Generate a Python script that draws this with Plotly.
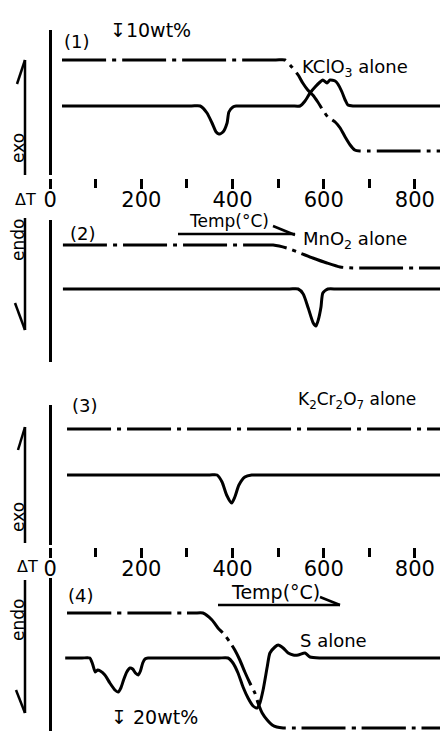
import plotly.graph_objects as go

# ---------------- data (temperature in °C, signals in arbitrary units) ----------------
# Panel (1) KClO3 alone
p1_dta_T = [26, 310, 329, 344, 355, 364, 370, 379, 388, 392, 401, 408, 425, 530, 548, 559, 570, 581, 592, 598, 607, 614, 625, 631, 640, 647, 653, 664, 690, 855]
p1_dta_v = [0, 0, 0, -7, -17, -26, -28, -26, -17, -6, -1, 0, 0, 0, 0, 5, 13, 19, 24, 26, 23, 26, 25, 22, 14, 6, 1, 0, 0, 0]
p1_tg_T = [26, 495, 515, 530, 544, 554, 565, 576, 587, 598, 609, 625, 636, 647, 658, 668, 679, 700, 855]
p1_tg_v = [46, 46, 46, 39, 31, 23, 16, 11, 4, -4, -11, -16, -22, -31, -39, -44, -45, -45, -45]

# Panel (2) MnO2 alone
p2_dta_T = [28, 525, 544, 555, 566, 577, 583, 588, 594, 598, 609, 630, 855]
p2_dta_v = [0, 0, 0, -5, -19, -34, -37, -31, -18, -4, 0, 0, 0]
p2_tg_T = [28, 470, 489, 519, 548, 576, 607, 636, 664, 695, 855]
p2_tg_v = [44, 44, 44, 41, 36, 31, 26, 22, 21, 21, 21]

# Panel (3) K2Cr2O7 alone
p3_dta_T = [37, 350, 366, 377, 387, 398, 405, 414, 427, 442, 460, 855]
p3_dta_v = [0, 0, 0, -7, -20, -28, -22, -10, -2, 0, 0, 0]
p3_tg_T = [37, 855]
p3_tg_v = [46, 46]

# Panel (4) S alone
p4_dta_T = [33, 70, 87, 93, 99, 104, 110, 120, 131, 142, 149, 155, 161, 168, 175, 181, 187, 193, 198, 203, 208, 215, 235,
            370, 390, 401, 412, 423, 434, 445, 454, 460, 467, 476, 482, 493, 500, 511, 522, 533, 544, 559, 570, 592, 615, 855]
p4_dta_v = [0, 0, 0, -6, -14, -12, -13, -17, -25, -32, -34, -30, -22, -14, -10, -11, -15, -17, -13, -5, -1, 0, 0,
            0, 0, -5, -15, -29, -40, -48, -50, -45, -32, -9, 5, 11, 13, 10, 5, 3, 3, 5, 1, 0, 0, 0]
p4_tg_T = [37, 300, 318, 335, 355, 368, 383, 394, 405, 416, 427, 438, 449, 456, 465, 476, 487, 497, 511, 530, 855]
p4_tg_v = [45, 45, 45, 45, 38, 30, 23, 16, 8, -2, -14, -25, -35, -45, -55, -62, -67, -69, -70, -70, -70]

major_ticks = [0, 200, 400, 600, 800]
minor_ticks = [100, 300, 500, 700]
tick_text = ["0", "200", "400", "600", "800"]

# ---------------- layout helpers ----------------
W, H = 440, 731
FONT = "DejaVu Sans"
INK = "black"
DASHDOT = "44px,6px,4px,6px"


def fx(x):
    return x / W


def fy(y):
    return 1 - y / H


fig = go.Figure()

panels = [
    (p1_dta_T, p1_dta_v, p1_tg_T, p1_tg_v, "x", "y"),
    (p2_dta_T, p2_dta_v, p2_tg_T, p2_tg_v, "x", "y2"),
    (p3_dta_T, p3_dta_v, p3_tg_T, p3_tg_v, "x2", "y3"),
    (p4_dta_T, p4_dta_v, p4_tg_T, p4_tg_v, "x2", "y4"),
]
for dT, dv, gT, gv, xa, ya in panels:
    fig.add_trace(go.Scatter(x=gT, y=gv, mode="lines", xaxis=xa, yaxis=ya,
                             line=dict(color=INK, width=3, dash=DASHDOT, shape="spline", smoothing=0.6),
                             hoverinfo="skip"))
    fig.add_trace(go.Scatter(x=dT, y=dv, mode="lines", xaxis=xa, yaxis=ya,
                             line=dict(color=INK, width=3, shape="spline", smoothing=0.6),
                             hoverinfo="skip"))

# panel pixel extents (top, bottom) and baseline pixel
panel_px = [(30, 175, 106), (220, 362, 289), (405, 545, 475), (578, 731, 658)]


def yax(top, bottom, base):
    return dict(domain=[fy(bottom), fy(top)], range=[base - bottom, base - top],
                anchor="free", position=fx(50), showline=True, linewidth=3, linecolor=INK,
                showticklabels=False, ticks="", showgrid=False, zeroline=False, fixedrange=True)


def xax(ypos, **kw):
    d = dict(domain=[0, 1], range=[-110, 855], anchor="free", position=fy(ypos),
             tickmode="array", tickvals=major_ticks, ticktext=tick_text,
             ticks="outside", ticklen=10, tickwidth=3, tickcolor=INK, ticklabelstandoff=-7,
             tickfont=dict(family=FONT, size=21, color=INK),
             minor=dict(tickvals=minor_ticks, ticks="outside", ticklen=9, tickwidth=3,
                        tickcolor=INK, showgrid=False),
             showline=False, showgrid=False, zeroline=False, fixedrange=True)
    d.update(kw)
    return d


annotations = []


def ann(text, x, y, size=18, xanchor="center", angle=0):
    annotations.append(dict(text=text, x=fx(x), y=fy(y), xref="paper", yref="paper",
                            xanchor=xanchor, yanchor="middle", showarrow=False, textangle=angle,
                            font=dict(family=FONT, size=size, color=INK)))


ann("(1)", 77, 42)
ann("↧10wt%", 108, 30, size=19, xanchor="left")
ann("KClO<sub>3</sub> alone", 300, 68, xanchor="left")
ann("ΔT", 25, 199, size=16)
ann("Temp(°C)", 229, 221, size=17)
ann("MnO<sub>2</sub> alone", 301, 240, xanchor="left")
ann("(2)", 83, 234)
ann("(3)", 85, 405)
ann("K<sub>2</sub>Cr<sub>2</sub>O<sub>7</sub> alone", 296, 400, size=17, xanchor="left")
ann("ΔT", 27, 566, size=16)
ann("(4)", 81, 595)
ann("Temp(°C)", 275, 592, size=19)
ann("S alone", 298, 640, xanchor="left")
ann("↧ 20wt%", 109, 717, size=19, xanchor="left")
ann("exo", 18, 148, size=17, angle=-90)
ann("endo", 18, 240, size=17, angle=-90)
ann("exo", 18, 517, size=17, angle=-90)
ann("endo", 18, 620, size=17, angle=-90)

shapes = []


def seg(x0, y0, x1, y1, w=2.5):
    shapes.append(dict(type="line", xref="paper", yref="paper", x0=fx(x0), y0=fy(y0),
                       x1=fx(x1), y1=fy(y1), line=dict(color=INK, width=w)))


# exo / endo arrows (half heads)
seg(25, 60, 25, 175); seg(25, 60, 17, 84)
seg(25, 218, 25, 330); seg(25, 330, 15, 303)
seg(25, 427, 25, 543); seg(25, 427, 18, 450)
seg(25, 580, 25, 713); seg(25, 713, 16, 690)
# Temp(°C) underline arrows
seg(178, 234, 295, 234); seg(273, 226, 295, 235)
seg(218, 605, 340, 605); seg(320, 597, 340, 605)

layout = dict(
    width=W, height=H, margin=dict(l=0, r=0, t=0, b=0),
    paper_bgcolor="white", plot_bgcolor="white", showlegend=False,
    xaxis=xax(178),
    xaxis2=xax(547, matches="x"),
    annotations=annotations, shapes=shapes,
)
for i, (t, b, base) in enumerate(panel_px):
    key = "yaxis" if i == 0 else f"yaxis{i + 1}"
    layout[key] = yax(t, b, base)

fig.update_layout(**layout)
fig.write_html("out.html")
